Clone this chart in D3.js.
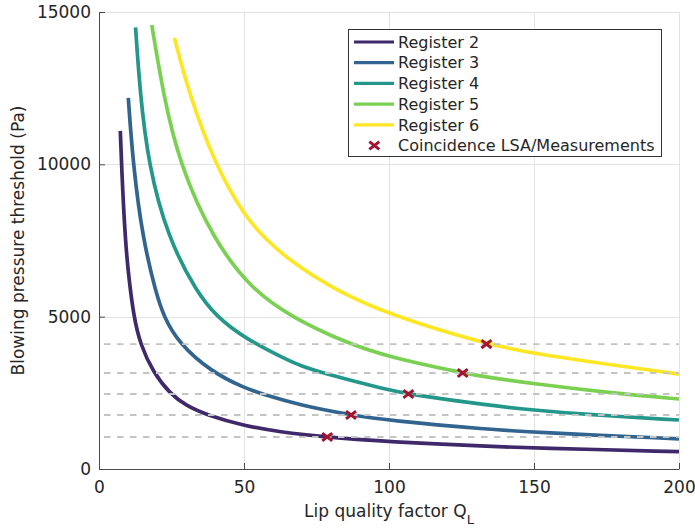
<!DOCTYPE html>
<html>
<head>
<meta charset="utf-8">
<script src="https://cdn.jsdelivr.net/npm/d3@7"></script>
<style>
  html, body { margin: 0; padding: 0; background: #fff; }
  svg { display: block; font-family: "DejaVu Sans", sans-serif; }
</style>
</head>
<body>
<svg id="chart" width="695" height="531"></svg>
<script>
// ---- data ----
const seriesNames = ["Register 2", "Register 3", "Register 4", "Register 5", "Register 6"];
const seriesColors = ["#40296a", "#31648f", "#22978a", "#7ad151", "#fde725"];

const reg2Q = [7.35, 7.75, 9.0, 10.3, 12.0, 14.2, 18.7, 24.5, 30, 37.1, 50, 62, 78.7, 100, 134.8, 150, 200];
const reg2P = [11100, 10000, 7550, 6250, 5000, 4100, 3170, 2470, 2080, 1772, 1420, 1218, 1040, 892, 740, 692, 568];

const reg3Q = [10.1, 11.75, 15.0, 19.7, 22.4, 27.3, 38.9, 50, 56.1, 69.3, 86.9, 100, 134.8, 150, 200];
const reg3P = [12180, 10000, 7600, 5750, 5000, 4150, 3175, 2670, 2460, 2095, 1772, 1590, 1295, 1205, 990];

const reg4Q = [12.6, 14.1, 17.0, 23.7, 33.7, 40.6, 50, 65.9, 69.3, 76.8, 100, 106.7, 134.8, 150, 165.9, 200];
const reg4P = [14496, 12400, 10000, 7600, 5800, 5000, 4300, 3530, 3400, 3152, 2585, 2461, 2080, 1935, 1800, 1608];

const reg5Q = [18.2, 22.2, 27.6, 39.4, 52.6, 66.4, 86.0, 100, 125.4, 134.8, 150, 176.2, 200];
const reg5P = [14572, 12285, 10050, 7520, 5900, 4980, 4110, 3675, 3151, 2999, 2796, 2500, 2297];

const reg6Q = [26.0, 31.0, 40.0, 50, 57.8, 65.9, 80, 100, 133.6, 150, 200];
const reg6P = [14155, 12330, 10000, 8330, 7505, 6838, 5948, 5058, 4100, 3772, 3114];

const crossQ = [78.7, 86.9, 106.7, 125.4, 133.6];
const crossP = [1050, 1772, 2462, 3151, 4100];
const thresholdP = [1050, 1772, 2462, 3151, 4100];

const xTicks = [0, 50, 100, 150, 200];
const yTicks = [0, 5000, 10000, 15000];
const xLabel = "Lip quality factor Q";
const xLabelSub = "L";
const yLabel = "Blowing pressure threshold (Pa)";
const crossLabel = "Coincidence LSA/Measurements";
const crossColor = "#a2142f";

// ---- layout ----
const margin = {left: 99, top: 12};
const W = 580, H = 457;
const svg = d3.select("#chart");
const g = svg.append("g").attr("transform", `translate(${margin.left},${margin.top})`);

const x = d3.scaleLinear().domain([0, 200]).range([0, W]);
const y = d3.scaleLinear().domain([0, 15000]).range([H, 0]);

// grid
g.append("g").selectAll("line").data(xTicks.slice(1)).join("line")
  .attr("x1", d => Math.round(x(d)) + 0.5).attr("x2", d => Math.round(x(d)) + 0.5)
  .attr("y1", 0).attr("y2", H)
  .attr("stroke", "#e3e3e3").attr("stroke-width", 1);
g.append("g").selectAll("line").data(yTicks.slice(1)).join("line")
  .attr("y1", d => Math.round(y(d)) + 0.5).attr("y2", d => Math.round(y(d)) + 0.5)
  .attr("x1", 0).attr("x2", W)
  .attr("stroke", "#e3e3e3").attr("stroke-width", 1);

// curves
const series = [
  reg2Q.map((q, i) => [q, reg2P[i]]),
  reg3Q.map((q, i) => [q, reg3P[i]]),
  reg4Q.map((q, i) => [q, reg4P[i]]),
  reg5Q.map((q, i) => [q, reg5P[i]]),
  reg6Q.map((q, i) => [q, reg6P[i]])
];
const line = d3.line().x(d => x(d[0])).y(d => y(d[1])).curve(d3.curveBasis);
g.append("g").selectAll("path").data(series).join("path")
  .attr("d", line)
  .attr("fill", "none")
  .attr("stroke", (d, i) => seriesColors[i])
  .attr("stroke-width", 3.7)
  .attr("stroke-linecap", "butt")
  .attr("stroke-linejoin", "round");

// dashed threshold lines
g.append("g").selectAll("line").data(thresholdP).join("line")
  .attr("x1", x(0) + 5).attr("x2", x(200))
  .attr("y1", d => y(d)).attr("y2", d => y(d))
  .attr("stroke", "#c4c4c4").attr("stroke-width", 1.8)
  .attr("stroke-dasharray", "6.5,6.5");

// crosses
const crossPath = "M-5,-3.9L5,3.9M-5,3.9L5,-3.9";
g.append("g").selectAll("path").data(crossQ.map((q, i) => [q, crossP[i]])).join("path")
  .attr("transform", d => `translate(${x(d[0])},${y(d[1])})`)
  .attr("d", crossPath)
  .attr("stroke", crossColor).attr("stroke-width", 3).attr("fill", "none");

// axes
const xAxis = d3.axisBottom(x).tickValues(xTicks).tickSize(-6).tickPadding(12).tickFormat(d3.format("d"));
const yAxis = d3.axisLeft(y).tickValues(yTicks).tickSize(-6).tickPadding(8).tickFormat(d3.format("d"));
const gx = g.append("g").attr("transform", `translate(0,${H})`).call(xAxis);
const gy = g.append("g").call(yAxis);
[gx, gy].forEach(a => {
  a.select(".domain").attr("stroke", "#4a4a4a");
  a.selectAll(".tick line").attr("stroke", "#4a4a4a");
  a.selectAll(".tick text").attr("fill", "#262626")
    .style("font-family", "DejaVu Sans, sans-serif").style("font-size", "17px");
});
gx.select(".domain").attr("d", `M0.5,0.5H${W + 0.5}`);
gy.select(".domain").attr("d", `M0.5,0.5V${H + 0.5}`);

// axis labels
const xl = svg.append("text")
  .attr("x", margin.left + W / 2).attr("y", 517)
  .attr("text-anchor", "middle")
  .attr("fill", "#262626")
  .style("font-size", "17px");
xl.append("tspan").text(xLabel);
xl.append("tspan").attr("dy", 7).style("font-size", "13px").text(xLabelSub);

svg.append("text")
  .attr("transform", `translate(24,${margin.top + H / 2}) rotate(-90)`)
  .attr("text-anchor", "middle")
  .attr("fill", "#262626")
  .style("font-size", "17px")
  .text(yLabel);

// legend
const lg = svg.append("g");
lg.append("rect")
  .attr("x", 348.5).attr("y", 29.5).attr("width", 313).attr("height", 127)
  .attr("fill", "#fff").attr("stroke", "#333").attr("stroke-width", 1);
const rowY = i => 42 + i * 20.7;
seriesNames.forEach((name, i) => {
  lg.append("line")
    .attr("x1", 354).attr("x2", 394)
    .attr("y1", rowY(i)).attr("y2", rowY(i))
    .attr("stroke", seriesColors[i]).attr("stroke-width", 3.2);
  lg.append("text")
    .attr("x", 398).attr("y", rowY(i))
    .attr("dy", "0.36em")
    .attr("fill", "#262626")
    .style("font-size", "16px")
    .text(name);
});
lg.append("path")
  .attr("transform", `translate(374.3,${rowY(5)})`)
  .attr("d", crossPath)
  .attr("stroke", crossColor).attr("stroke-width", 3).attr("fill", "none");
lg.append("text")
  .attr("x", 398).attr("y", rowY(5))
  .attr("dy", "0.36em")
  .attr("fill", "#262626")
  .style("font-size", "16px")
  .text(crossLabel);
</script>
</body>
</html>
